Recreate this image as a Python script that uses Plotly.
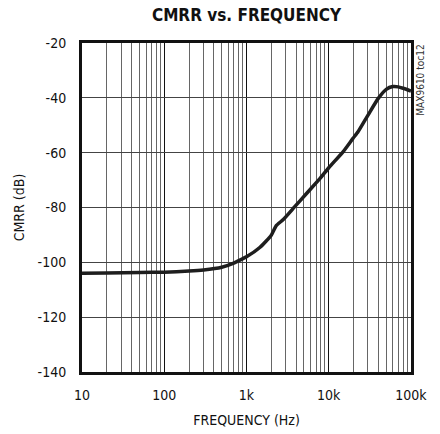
import plotly.graph_objects as go

freq = [10, 20, 50, 100, 200, 300, 500, 700, 830, 1000, 1450, 2000, 2300, 2800, 3860, 5370,
        7800, 10000, 15000, 19700, 22700, 30000, 40000, 50000, 60000, 70000, 80000, 100000]
cmrr = [-104.0, -103.9, -103.7, -103.6, -103.2, -102.8, -101.8, -100.3, -99.2, -98.0, -94.6,
        -90.1, -86.6, -84.4, -79.7, -74.9, -69.5, -65.5, -59.6, -54.8, -52.4, -46.3, -40.2,
        -36.9, -35.9, -36.0, -36.5, -37.5]

major_x = [10, 100, 1000, 10000, 100000]
major_x_text = ["10", "100", "1k", "10k", "100k"]
minor_x = [m * d for d in [10, 100, 1000, 10000] for m in range(2, 10)]
y_ticks = [-20, -40, -60, -80, -100, -120, -140]
y_ticks_text = ["-20", "-40", "-60", "-80", "-100", "-120", "-140"]

font_narrow = "DejaVu Sans Condensed, Liberation Sans Narrow, Arial Narrow, Liberation Sans, Arial"

fig = go.Figure()
fig.add_trace(go.Scatter(x=freq, y=cmrr, mode="lines",
                         line=dict(color="#1e1e1e", width=3.5, shape="spline", smoothing=0.5),
                         showlegend=False, hoverinfo="skip"))

fig.update_layout(
    width=440, height=434,
    margin=dict(l=82, r=29, t=43, b=62),
    paper_bgcolor="white", plot_bgcolor="white",
    title=dict(text="<b>CMRR vs. FREQUENCY</b>", xref="paper", x=0.5, xanchor="center",
               y=0.965, yanchor="middle",
               font=dict(family=font_narrow, size=17, color="#111")),
    font=dict(family=font_narrow, size=14, color="#111"),
    xaxis=dict(type="log", range=[1, 5], tickvals=major_x, ticktext=major_x_text,
               showgrid=True, gridcolor="#111", gridwidth=1.2,
               minor=dict(tickvals=minor_x, showgrid=True, gridcolor="#666", gridwidth=1.2, ticks=""),
               showline=True, linecolor="#111", linewidth=3, mirror=True, ticks="",
               title=dict(text="FREQUENCY (Hz)", standoff=14, font=dict(size=14)),
               zeroline=False, ticklabelstandoff=8, automargin=False),
    yaxis=dict(range=[-140, -20], tickvals=y_ticks, ticktext=y_ticks_text,
               showgrid=True, gridcolor="#444", gridwidth=1.2,
               showline=True, linecolor="#111", linewidth=3, mirror=True, ticks="",
               title=dict(text="CMRR (dB)", standoff=10, font=dict(size=14)),
               zeroline=False, ticklabelstandoff=10, automargin=False),
)
fig.add_annotation(text="MAX9610 toc12", textangle=-90, xref="paper", yref="paper",
                   x=1.005, y=1.0, xanchor="left", yanchor="top", showarrow=False,
                   font=dict(family=font_narrow, size=10, color="#333"))

fig.write_html("out.html")
